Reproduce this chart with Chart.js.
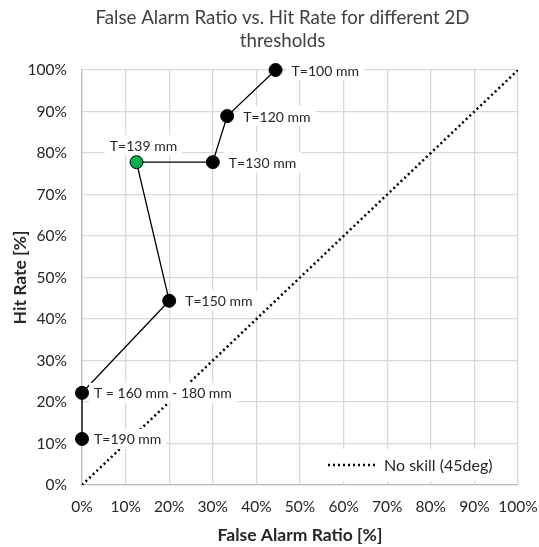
<!DOCTYPE html>
<html>
<head>
<meta charset="utf-8">
<script src="https://cdn.jsdelivr.net/npm/chart.js@4"></script>
<style>
  html, body { margin: 0; padding: 0; background: #fff; }
  #wrap { width: 539px; height: 547px; }
</style>
</head>
<body>
<div id="wrap"><canvas id="myChart" width="539" height="547"></canvas></div>
<script>
// values (percent)
const falseAlarm = [44.4, 33.3, 30, 12.5, 20, 0, 0];
const hitRate = [100, 88.9, 77.8, 77.8, 44.4, 22.2, 11.1];
const pointNames = ['T=100 mm', 'T=120 mm', 'T=130 mm', 'T=139 mm', 'T=150 mm', 'T = 160 mm - 180 mm', 'T=190 mm'];
const pointFill = ['#000', '#000', '#000', '#00b050', '#000', '#000', '#000'];
const noSkillX = [0, 100];
const noSkillY = [0, 100];
const tickValues = [0, 10, 20, 30, 40, 50, 60, 70, 80, 90, 100];

const fontName = 'Lato';

// labels drawn with a white box on top of the lines
const pointLabels = {
    id: 'pointLabels',
    afterDatasetsDraw(chart) {
        const ctx = chart.ctx;
        const meta = chart.getDatasetMeta(1);
        ctx.save();
        ctx.font = '14px ' + fontName;
        ctx.textBaseline = 'middle';
        meta.data.forEach((pt, i) => {
            const txt = pointNames[i];
            const w = ctx.measureText(txt).width;
            let x, y;
            if (i === 3) {
                x = pt.x - w / 2 + 7;
                y = pt.y - 17;
            } else if (i >= 5) {
                x = pt.x + 12;
                y = pt.y;
            } else {
                x = pt.x + 16;
                y = pt.y;
            }
            ctx.fillStyle = '#fff';
            ctx.fillRect(x - 5, y - 10, w + 10, 20);
            ctx.fillStyle = '#262626';
            ctx.fillText(txt, x, y + 1);
        });
        ctx.restore();
    }
};

const insideLegend = {
    id: 'insideLegend',
    afterDatasetsDraw(chart) {
        const ctx = chart.ctx;
        const a = chart.chartArea;
        ctx.save();
        const yc = a.bottom - 20;
        ctx.fillStyle = '#fff';
        ctx.fillRect(a.right - 212, yc - 16, 208, 32);
        ctx.strokeStyle = '#000';
        ctx.lineWidth = 2.5;
        ctx.setLineDash([2, 3]);
        ctx.beginPath();
        ctx.moveTo(a.right - 190, yc);
        ctx.lineTo(a.right - 140, yc);
        ctx.stroke();
        ctx.setLineDash([]);
        ctx.fillStyle = '#262626';
        ctx.font = '16px ' + fontName;
        ctx.textBaseline = 'middle';
        ctx.fillText('No skill (45deg)', a.right - 134, yc + 1);
        ctx.restore();
    }
};

const pct = v => v + '%';

const data = {
    datasets: [{
        label: 'No skill (45deg)',
        data: noSkillX.map((x, i) => ({x: x, y: noSkillY[i]})),
        showLine: true,
        borderColor: '#000',
        borderWidth: 2.5,
        borderDash: [2, 3],
        pointRadius: 0,
        fill: false
    }, {
        label: 'Thresholds',
        data: falseAlarm.map((x, i) => ({x: x, y: hitRate[i]})),
        showLine: true,
        clip: false,
        borderColor: '#000',
        borderWidth: 1.3,
        pointRadius: 6.5,
        pointBackgroundColor: pointFill,
        pointBorderColor: '#000',
        pointBorderWidth: 1,
        fill: false
    }]
};

const config = {
    type: 'scatter',
    data: data,
    options: {
        responsive: false,
        animation: false,
        layout: { padding: { left: 26, right: 0, top: 0, bottom: 0 } },
        plugins: {
            legend: { display: false },
            tooltip: { enabled: false },
            title: {
                display: true,
                text: ['False Alarm Ratio vs. Hit Rate for different 2D', 'thresholds'],
                color: '#404040',
                font: { family: fontName, size: 18.7, weight: 'normal', lineHeight: 1.23 },
                padding: { top: 6, bottom: 18 }
            }
        },
        scales: {
            x: {
                type: 'linear',
                min: 0, max: 100,
                afterBuildTicks: s => { s.ticks = tickValues.map(v => ({value: v})); },
                afterFit: s => { s.height = 62; s.paddingRight = 21; s.paddingLeft = 0; },
                ticks: { callback: pct, color: '#262626', padding: 13, maxRotation: 0,
                    font: { family: fontName, size: 15.5 } },
                grid: { color: '#d9d9d9', drawTicks: false, lineWidth: 1.3 },
                border: { color: '#bfbfbf', width: 1.3 },
                title: { display: true, text: 'False Alarm Ratio [%]', color: '#262626',
                    font: { family: fontName, size: 17.5, weight: 'bold' }, padding: { top: 0, bottom: 1 } }
            },
            y: {
                type: 'linear',
                min: 0, max: 100,
                afterBuildTicks: s => { s.ticks = tickValues.map(v => ({value: v})); },
                afterFit: s => { s.width = 56; },
                ticks: { callback: pct, color: '#262626', padding: 15,
                    font: { family: fontName, size: 15.5 } },
                grid: { color: '#d9d9d9', drawTicks: false, lineWidth: 1.3 },
                border: { color: '#bfbfbf', width: 1.3 },
                title: { display: true, text: 'Hit Rate [%]', color: '#262626',
                    font: { family: fontName, size: 17.5, weight: 'bold' }, padding: { top: -16, bottom: 0 } }
            }
        }
    },
    plugins: [pointLabels, insideLegend]
};

const myChart = new Chart(document.getElementById('myChart'), config);
</script>
</body>
</html>
